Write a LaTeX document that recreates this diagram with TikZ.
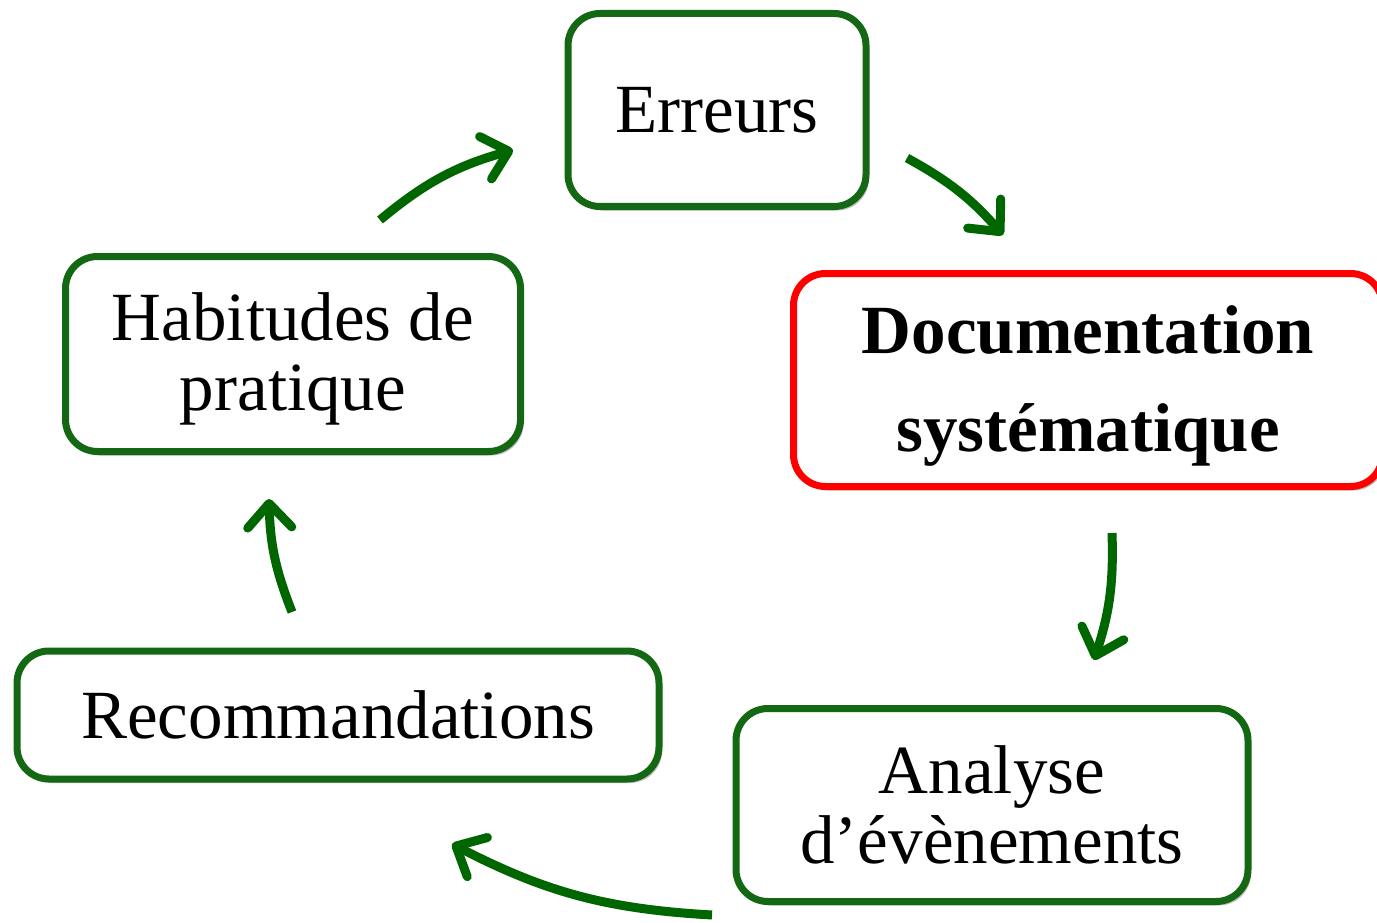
\documentclass[tikz,border=0pt]{standalone}
\usepackage{fontspec}
\setmainfont{Liberation Serif}
\usetikzlibrary{arrows.meta,shadows}
\definecolor{cyclegreen}{RGB}{20,104,20}
\definecolor{arrowgreen}{RGB}{0,102,0}
\definecolor{alertred}{RGB}{255,0,0}
\newcommand{\lowered}[2]{\raisebox{-#1}[\height][\depth]{#2}}
\tikzset{
  stagebox/.style={draw=cyclegreen, line width=7pt, rounded corners=32pt, fill=white,
    align=center, inner sep=0pt,
    font=\fontsize{69}{70}\selectfont,
    drop shadow={shadow xshift=3pt, shadow yshift=-4pt, opacity=0.25, fill=black}},
  keybox/.style={stagebox, draw=alertred, font=\fontsize{69}{98}\selectfont\bfseries},
  flow/.style={draw=arrowgreen, line width=9pt,
    -{Straight Barb[length=24pt, width=44pt, line width=9pt, round]}}
}
\begin{document}
\begin{tikzpicture}[x=1pt,y=-1pt]
  \useasboundingbox (0,0) rectangle (1377,923);
  % stages of the cycle
  \node[stagebox, minimum width=298pt, minimum height=193pt] (err) at (717,110) {Erreurs};
  \node[keybox, minimum width=589pt, minimum height=213pt] (doc) at (1088,380) {\lowered{6pt}{\parbox{589pt}{\centering Documentation\\syst\'ematique}}};
  \node[stagebox, minimum width=512pt, minimum height=193pt] (ana) at (992,805) {Analyse\\d’évènements};
  \node[stagebox, minimum width=642pt, minimum height=128pt] (rec) at (338,715) {Recommandations};
  \node[stagebox, minimum width=455pt, minimum height=195pt] (hab) at (293,354) {\lowered{5pt}{\parbox{455pt}{\centering Habitudes de\\pratique}}};
  % arrow end points
  \coordinate (a1s) at (380,220); \coordinate (a1e) at (513,150);
  \coordinate (a2s) at (907,158); \coordinate (a2e) at (1003,235);
  \coordinate (a3s) at (1112,533); \coordinate (a3e) at (1094,660);
  \coordinate (a4s) at (712,915); \coordinate (a4e) at (452,844);
  \coordinate (a5s) at (292,612); \coordinate (a5e) at (269,499);
  % arrows of the cycle
  \draw[flow] (a1s) to[bend left=12] (a1e);
  \draw[flow] (a2s) to[bend left=10] (a2e);
  \draw[flow] (a3s) to[bend left=10] (a3e);
  \draw[flow] (a4s) to[bend left=12] (a4e);
  \draw[flow] (a5s) to[bend left=10] (a5e);
\end{tikzpicture}
\end{document}
